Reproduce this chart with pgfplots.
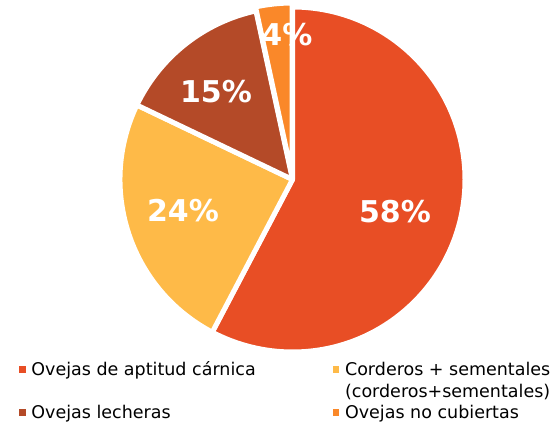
\documentclass[border=0pt]{standalone}
\usepackage{pgfplots}
\pgfplotsset{compat=1.18}
\usepackage{pgfplotstable}
\usepackage{fontspec}
\setmainfont{DejaVu Sans}
\definecolor{cRed}{RGB}{232,78,37}
\definecolor{cYel}{RGB}{254,186,72}
\definecolor{cBrn}{RGB}{180,74,40}
\definecolor{cOrg}{RGB}{250,136,41}

% value = share of the pie; pct = printed label; la, lr = label angle (deg) and radius (fraction)
\pgfplotstableread{
value pct la lr
57.7 58 -17.6 0.623
24.4 24 196.05 0.661
14.5 15 131.2 0.674
3.4 4 92.2 0.838
}\piedata

\pgfplotstablegetelem{0}{value}\of\piedata \edef\vA{\pgfplotsretval}
\pgfplotstablegetelem{1}{value}\of\piedata \edef\vB{\pgfplotsretval}
\pgfplotstablegetelem{2}{value}\of\piedata \edef\vC{\pgfplotsretval}
\pgfplotstablegetelem{3}{value}\of\piedata \edef\vD{\pgfplotsretval}
\pgfplotstablegetelem{0}{pct}\of\piedata \edef\pA{\pgfplotsretval}
\pgfplotstablegetelem{1}{pct}\of\piedata \edef\pB{\pgfplotsretval}
\pgfplotstablegetelem{2}{pct}\of\piedata \edef\pC{\pgfplotsretval}
\pgfplotstablegetelem{3}{pct}\of\piedata \edef\pD{\pgfplotsretval}
\pgfplotstablegetelem{0}{lr}\of\piedata \edef\lA{\pgfplotsretval}
\pgfplotstablegetelem{1}{lr}\of\piedata \edef\lB{\pgfplotsretval}
\pgfplotstablegetelem{2}{lr}\of\piedata \edef\lC{\pgfplotsretval}
\pgfplotstablegetelem{3}{lr}\of\piedata \edef\lD{\pgfplotsretval}
\pgfplotstablegetelem{0}{la}\of\piedata \edef\mA{\pgfplotsretval}
\pgfplotstablegetelem{1}{la}\of\piedata \edef\mB{\pgfplotsretval}
\pgfplotstablegetelem{2}{la}\of\piedata \edef\mC{\pgfplotsretval}
\pgfplotstablegetelem{3}{la}\of\piedata \edef\mD{\pgfplotsretval}
\pgfmathsetmacro\vT{\vA+\vB+\vC+\vD}
\pgfmathsetmacro\aZero{90}
\pgfmathsetmacro\aOne{\aZero-360*(\vA/\vT)}
\pgfmathsetmacro\aTwo{\aOne-360*(\vB/\vT)}
\pgfmathsetmacro\aThree{\aTwo-360*(\vC/\vT)}
\pgfmathsetmacro\aFour{\aThree-360*(\vD/\vT)}
\pgfmathsetmacro\eD{(\aThree+\aFour)/2}

\begin{document}
\begin{tikzpicture}
\useasboundingbox (0,0) rectangle (556bp,429bp);
\begin{axis}[
  at={(292.5bp,249.5bp)}, anchor=center,
  scale only axis, width=345bp, height=345bp,
  xmin=-1, xmax=1, ymin=-1, ymax=1,
  hide axis, clip=false,
  legend columns=2,
  legend image code/.code={\path (0bp,0bp) (10bp,9bp); \fill[#1,draw=none,overlay] (0bp,-4bp) rectangle (6.5bp,2.5bp);},
  legend style={at={(axis description cs:-0.2928,-0.0188)}, anchor=north west,
    draw=none, fill=none, inner sep=0pt, outer sep=0pt,
    font=\fontsize{17.5bp}{21bp}\selectfont,
    /tikz/every even column/.append style={column sep=75bp},
    cells={anchor=west, inner sep=0pt, outer sep=0pt, text height=15.5bp, text depth=3.5bp},
    row sep=0.5bp},
]
\addlegendimage{fill=cRed}
\addlegendentry{Ovejas de aptitud cárnica}
\addlegendimage{fill=cYel}
\addlegendentry{Corderos + sementales}
\addlegendimage{empty legend}
\addlegendentry{~}
\addlegendimage{empty legend}
\addlegendentry{(corderos+sementales)}
\addlegendimage{fill=cBrn}
\addlegendentry{Ovejas lecheras}
\addlegendimage{fill=cOrg}
\addlegendentry{Ovejas no cubiertas}

\fill[cRed, draw=white, line width=5bp, line join=round] (axis cs:0,0) -- (axis cs:{cos(\aZero)},{sin(\aZero)}) arc[start angle=\aZero, end angle=\aOne, radius=172.5bp] -- cycle;
\fill[cYel, draw=white, line width=5bp, line join=round] (axis cs:0,0) -- (axis cs:{cos(\aOne)},{sin(\aOne)}) arc[start angle=\aOne, end angle=\aTwo, radius=172.5bp] -- cycle;
\fill[cBrn, draw=white, line width=5bp, line join=round] (axis cs:0,0) -- (axis cs:{cos(\aTwo)},{sin(\aTwo)}) arc[start angle=\aTwo, end angle=\aThree, radius=172.5bp] -- cycle;
\fill[cOrg, draw=white, line width=5bp, line join=round, shift={(\eD:4bp)}] (axis cs:0,0) -- (axis cs:{cos(\aThree)},{sin(\aThree)}) arc[start angle=\aThree, end angle=\aFour, radius=172.5bp] -- cycle;

\tikzset{pl/.style={text=white, font=\bfseries\fontsize{30bp}{32bp}\selectfont, inner sep=0pt}}
\node[pl] at (axis cs:{\lA*cos(\mA)},{\lA*sin(\mA)}) {\pA\%};
\node[pl] at (axis cs:{\lB*cos(\mB)},{\lB*sin(\mB)}) {\pB\%};
\node[pl] at (axis cs:{\lC*cos(\mC)},{\lC*sin(\mC)}) {\pC\%};
\node[pl] at (axis cs:{\lD*cos(\mD)},{\lD*sin(\mD)}) {\pD\%};
\end{axis}
\end{tikzpicture}
\end{document}
